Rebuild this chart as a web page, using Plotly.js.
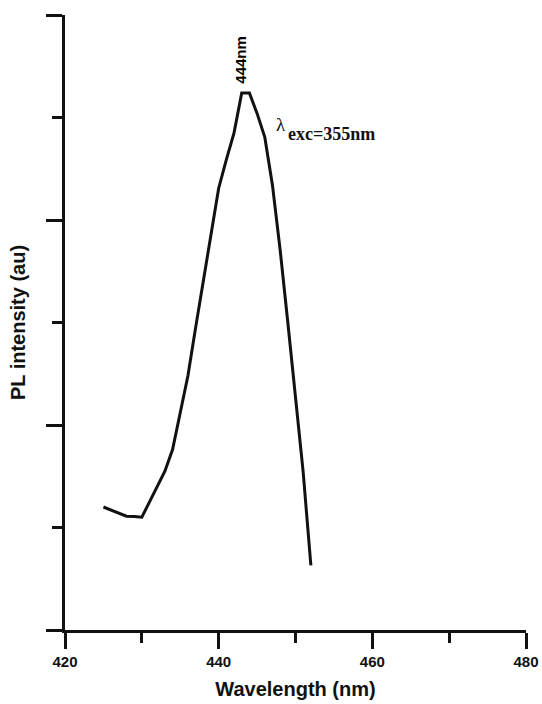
<!DOCTYPE html>
<html>
<head>
<meta charset="utf-8">
<script src="https://cdn.plot.ly/plotly-3.0.1.min.js"></script>
<style>html,body{margin:0;padding:0;background:#fff;}#chart{width:542px;height:704px;}</style>
</head>
<body>
<div id="chart"></div>
<script>
// Wavelength (nm)
var wavelength = [425,426,427,428,429,430,431,432,433,434,435,436,437,438,439,440,441,442,443,444,445,446,447,448,449,450,451,452];
// PL intensity (arbitrary units)
var intensity = [1.20,1.17,1.14,1.11,1.107,1.10,1.25,1.40,1.55,1.76,2.13,2.48,2.95,3.40,3.82,4.31,4.59,4.85,5.24,5.24,5.04,4.81,4.34,3.71,3.00,2.29,1.54,0.63];
var xTickVals = [420,440,460,480];
var xTickText = ['420','440','460','480'];

var trace = {
  x: wavelength, y: intensity, type: 'scatter', mode: 'lines',
  line: {color: '#111', width: 3, shape: 'linear'},
  hoverinfo: 'x+y'
};

var layout = {
  width: 542, height: 704,
  margin: {l: 65, r: 16, t: 15, b: 74},
  paper_bgcolor: '#fff', plot_bgcolor: '#fff',
  showlegend: false,
  xaxis: {
    range: [420, 480], tickmode: 'array', tickvals: xTickVals, ticktext: xTickText,
    showgrid: false, zeroline: false, showline: true, linecolor: '#111', linewidth: 3,
    ticks: 'outside', ticklen: 16, tickwidth: 3, tickcolor: '#111',
    minor: {dtick: 10, tick0: 420, ticks: 'outside', ticklen: 10, tickwidth: 3, tickcolor: '#111', showgrid: false},
    tickfont: {family: 'Liberation Sans, Arial, sans-serif', size: 15, color: '#111', weight: 'bold'},
    title: {text: '<b>Wavelength (nm)</b>', font: {family: 'Liberation Sans, Arial, sans-serif', size: 20, color: '#111'}, standoff: 13},
    fixedrange: true
  },
  yaxis: {
    range: [0, 6], dtick: 2, tick0: 0,
    showgrid: false, zeroline: false, showline: true, linecolor: '#111', linewidth: 3,
    ticks: 'outside', ticklen: 16, tickwidth: 3, tickcolor: '#111',
    minor: {dtick: 1, tick0: 0, ticks: 'outside', ticklen: 10, tickwidth: 3, tickcolor: '#111', showgrid: false},
    showticklabels: false,
    title: {text: '<b>PL intensity (au)</b>', font: {family: 'Liberation Sans, Arial, sans-serif', size: 20, color: '#111'}, standoff: 16},
    fixedrange: true
  },
  annotations: [
    {x: 442.9, y: 5.31, xref: 'x', yref: 'y', text: '<b>444nm</b>', textangle: -90, showarrow: false,
     xanchor: 'center', yanchor: 'bottom', font: {family: 'Liberation Sans, Arial, sans-serif', size: 15, color: '#000', weight: 900}},
    {x: 448.05, y: 4.93, xref: 'x', yref: 'y', text: 'λ', showarrow: false,
     xanchor: 'center', yanchor: 'middle', font: {family: 'Liberation Serif, Times New Roman, serif', size: 19, color: '#111'}},
    {x: 448.75, y: 4.84, xref: 'x', yref: 'y', text: '<b>exc=355nm</b>', showarrow: false,
     xanchor: 'left', yanchor: 'middle', font: {family: 'Liberation Serif, Times New Roman, serif', size: 18, color: '#111'}}
  ]
};

Plotly.newPlot('chart', [trace], layout, {staticPlot: true, displayModeBar: false});
</script>
</body>
</html>
